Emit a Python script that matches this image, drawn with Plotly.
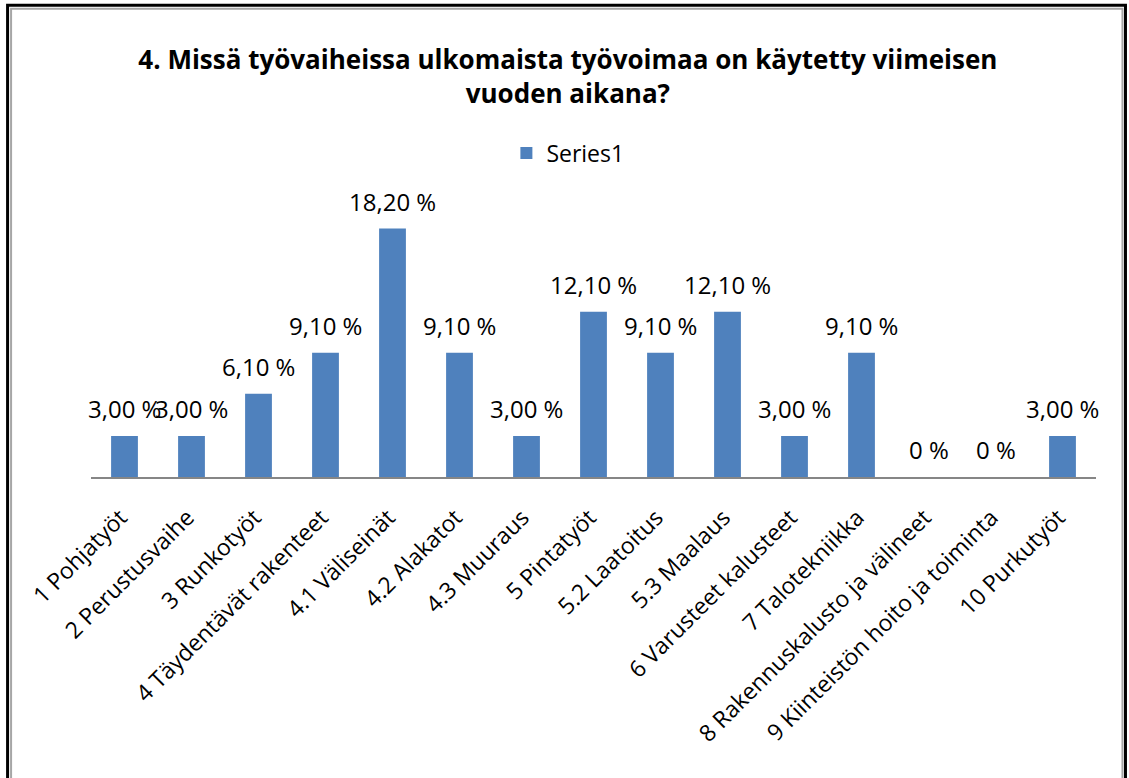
import plotly.graph_objects as go

categories = ["1 Pohjatyöt", "2 Perustusvaihe", "3 Runkotyöt", "4 Täydentävät rakenteet",
              "4.1 Väliseinät", "4.2 Alakatot", "4.3 Muuraus", "5 Pintatyöt", "5.2 Laatoitus",
              "5.3 Maalaus", "6 Varusteet kalusteet", "7 Talotekniikka",
              "8 Rakennuskalusto ja välineet", "9 Kiinteistön hoito ja toiminta", "10 Purkutyöt"]
values = [3.0, 3.0, 6.1, 9.1, 18.2, 9.1, 3.0, 12.1, 9.1, 12.1, 3.0, 9.1, 0, 0, 3.0]
labels = ["3,00 %", "3,00 %", "6,10 %", "9,10 %", "18,20 %", "9,10 %", "3,00 %", "12,10 %",
          "9,10 %", "12,10 %", "3,00 %", "9,10 %", "0 %", "0 %", "3,00 %"]

W, H = 1129, 778
L, R, T, B = 90.5, 32.5, 204.4, 301
FONT = "Open Sans"

fig = go.Figure()
fig.add_trace(go.Bar(x=categories, y=values, name="Series1", width=0.4,
                     marker=dict(color="#4F81BD", line=dict(width=0))))

for c, v, t in zip(categories, values, labels):
    fig.add_annotation(x=c, y=v, text=t, showarrow=False, yanchor="bottom", yshift=9,
                       font=dict(size=24, color="#000000", family=FONT))

# chart frame (pixel -> paper)
pw, ph = W - L - R, H - T - B
def px(x): return (x - L) / pw
def py(y): return (H - B - y) / ph
fig.add_shape(type="rect", xref="paper", yref="paper", x0=px(7), x1=px(1126), y0=py(6), y1=py(800),
              line=dict(color="#000000", width=3))
fig.add_shape(type="rect", xref="paper", yref="paper", x0=px(10.5), x1=px(1123), y0=py(9.5), y1=py(800),
              line=dict(color="#A6A6A6", width=2))

fig.update_layout(
    width=W, height=H,
    margin=dict(l=L, r=R, t=T, b=B, autoexpand=False),
    paper_bgcolor="white", plot_bgcolor="white",
    font=dict(family=FONT, size=23, color="#000000"),
    title=dict(text="<b>4. Missä työvaiheissa ulkomaista työvoimaa on käytetty viimeisen<br>vuoden aikana?</b>",
               x=0.503, xanchor="center", y=1 - 69 / H, yanchor="middle",
               font=dict(size=26, family=FONT, color="#000000")),
    showlegend=True,
    legend=dict(orientation="h", xref="container", yref="container", x=0.503, xanchor="center",
                y=1 - 153 / H, yanchor="middle", font=dict(size=23, family=FONT)),
    bargap=0.6,
)
fig.update_xaxes(showline=True, linecolor="#868686", linewidth=2, ticks="", tickangle=-45,
                 tickfont=dict(size=23, family=FONT), showgrid=False, ticklabelstandoff=16,
                 ticklabelshift=-4, automargin=False, range=[-0.5, len(categories) - 0.5])
fig.update_yaxes(range=[0, 20], visible=False, showgrid=False, automargin=False)

fig.write_html("out.html", config={"displayModeBar": False},
               post_script="document.body.style.margin='0';")
